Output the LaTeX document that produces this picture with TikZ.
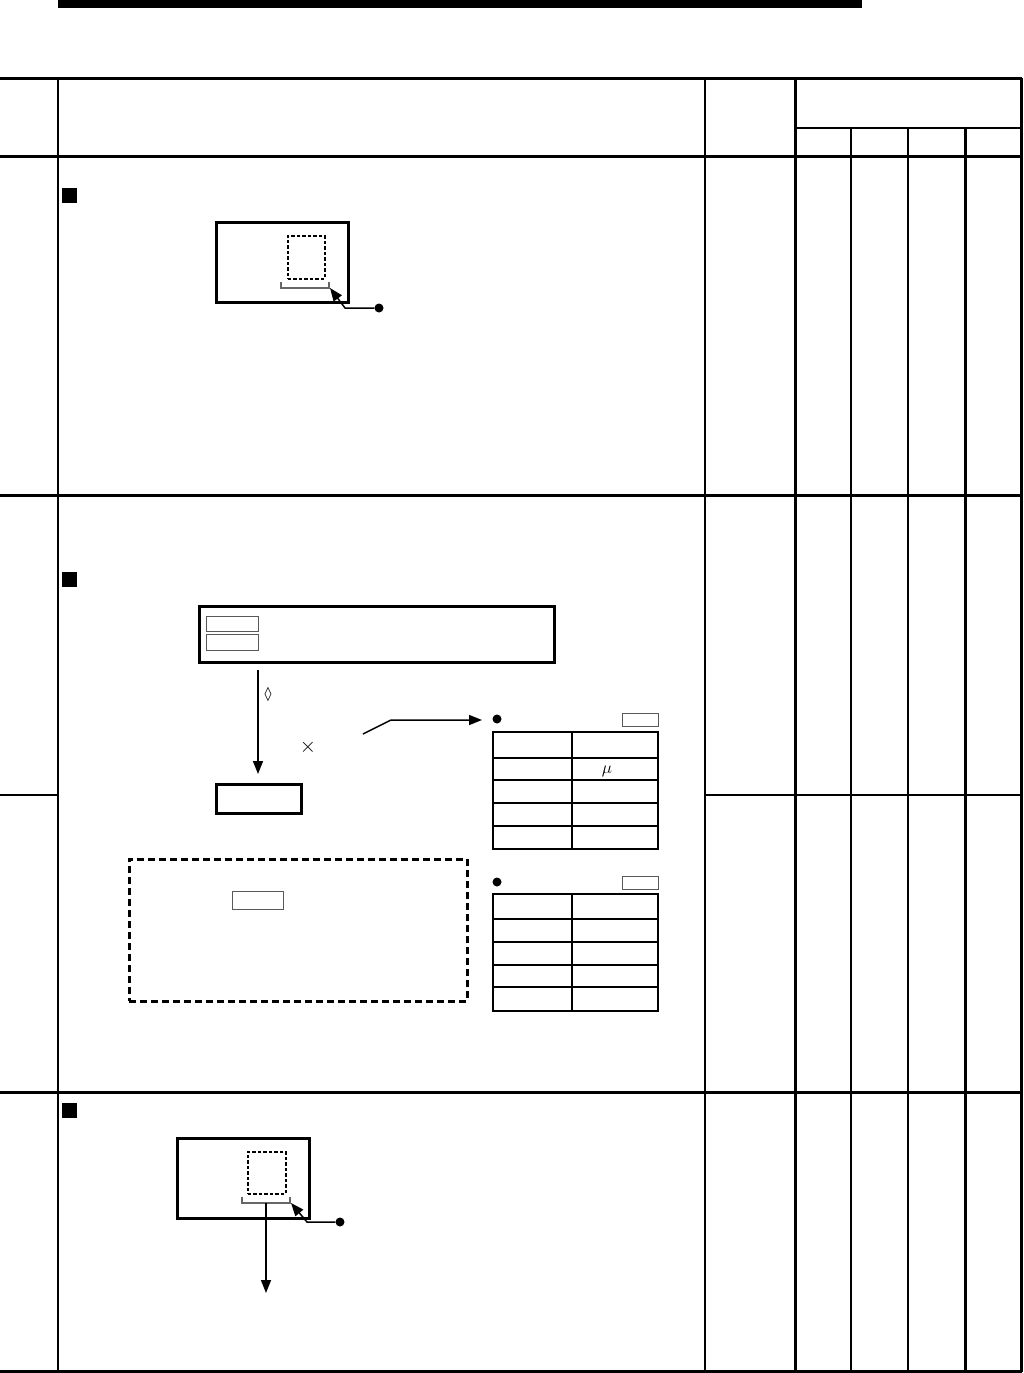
\documentclass[tikz,border=0pt]{standalone}
\usepackage{fontspec}
\newfontfamily\symfont{DejaVu Sans}
\usetikzlibrary{arrows.meta}
\begin{document}
\begin{tikzpicture}[x=1pt,y=-1pt,
  thin/.style={line width=1.2pt},
  thickl/.style={line width=3pt},
  medl/.style={line width=2pt},
  thickbox/.style={draw,line width=2.8pt,inner sep=0pt,anchor=north west},
  graybox/.style={draw=black!65,line width=1.3pt,inner sep=0pt,anchor=north west},
  dashbox/.style={draw,line width=1.6pt,dash pattern=on 3.5pt off 2pt,inner sep=0pt,anchor=north west},
  bigdash/.style={draw,line width=2.6pt,dash pattern=on 7pt off 4pt,inner sep=0pt,anchor=north west},
  blacksq/.style={fill=black,inner sep=0pt,minimum width=15pt,minimum height=15pt,anchor=north west},
  dotn/.style={circle,fill=black,inner sep=0pt,minimum size=9pt},
  arr/.style={line width=1.5pt,-{Triangle[length=13pt,width=10pt]}},
  bracket/.style={draw=black!60,line width=1.5pt},
  tbl/.style={line width=1.7pt}
]
\useasboundingbox (0,0) rectangle (1023,1373);
% top bar
\fill (58,0) rectangle (862,8);
% table frame
\draw[thickl] (0,78) -- (1022,78);
\draw[thickl] (0,156) -- (1022,156);
\draw[thickl] (0,495) -- (1022,495);
\draw[medl] (0,795) -- (58,795);
\draw[medl] (705,795) -- (1022,795);
\draw[thickl] (0,1092) -- (1022,1092);
\draw[thickl] (0,1371) -- (1022,1371);
\draw[medl] (795,128) -- (1022,128);
\draw[thin] (58,78) -- (58,1371);
\draw[thin] (705,78) -- (705,1371);
\draw[thickl] (795,78) -- (795,1371);
\draw[thin] (851,128) -- (851,1371);
\draw[thin] (908,128) -- (908,1371);
\draw[thickl] (965,128) -- (965,1371);
\draw[thickl] (1021,78) -- (1021,1372);

% ---------- row 1
\node[blacksq] (sq1) at (62,188) {};
\node[thickbox,minimum width=132pt,minimum height=80pt] (r1) at (215,221) {};
\node[dashbox,minimum width=37pt,minimum height=43pt] (d1) at (287,235) {};
\draw[bracket] (281,282) |- (329,288) -- (329,282);
\node[dotn] (b1) at (379,308) {};
\coordinate (t1) at (330,288);
\coordinate (k1) at (345,308);
\draw[arr] (b1) -- (k1) -- (t1);

% ---------- row 2
\node[blacksq] (sq2) at (62,572) {};
\node[thickbox,minimum width=355pt,minimum height=56pt] (r2) at (198,605) {};
\node[graybox,minimum width=52pt,minimum height=15pt] (g2a) at (206,616) {};
\node[graybox,minimum width=52pt,minimum height=16pt] (g2b) at (206,634) {};
\coordinate (a2s) at (258,670);
\coordinate (a2e) at (258,774);
\draw[arr] (a2s) -- (a2e);
\node[thickbox,minimum width=85pt,minimum height=29pt] (b2) at (215,783) {};
\node[font=\symfont\fontsize{14}{14}\selectfont,inner sep=0pt] (dia) at (268,694) {◊};
\node[font=\fontsize{20}{20}\selectfont,inner sep=0pt] (times) at (308,747) {$\times$};
\coordinate (l2a) at (363,734);
\coordinate (l2b) at (391,720);
\coordinate (l2c) at (482,720);
\draw[arr] (l2a) -- (l2b) -- (l2c);
% table 1
\node[dotn] (tb1) at (497,719) {};
\node[graybox,minimum width=36pt,minimum height=13pt] (s1) at (622,713) {};
\draw[tbl] (493,732) rectangle (658,849);
\draw[tbl] (572,732) -- (572,849);
\draw[line width=2.6pt] (493,758) -- (658,758);
\foreach \yy in {780,803,826} \draw[tbl] (493,\yy) -- (658,\yy);
\node[font=\fontsize{18}{18}\selectfont,inner sep=0pt] (mu) at (607,771) {$\mu$};
% table 2
\node[dotn] (tb2) at (497,882) {};
\node[graybox,minimum width=36pt,minimum height=13pt] (s2) at (622,876) {};
\draw[tbl] (493,894) rectangle (658,1011);
\draw[tbl] (572,894) -- (572,1011);
\foreach \yy in {919,942,965,987} \draw[tbl] (493,\yy) -- (658,\yy);
% dashed box
\node[bigdash,minimum width=338pt,minimum height=142pt] (db) at (128,858) {};
\node[graybox,minimum width=51pt,minimum height=18pt] (g3) at (232,891) {};

% ---------- row 3
\node[blacksq] (sq3) at (62,1103) {};
\node[thickbox,minimum width=132pt,minimum height=80pt] (r3) at (176,1137) {};
\node[dashbox,minimum width=38pt,minimum height=42pt] (d3) at (247,1151) {};
\draw[bracket] (242,1197) |- (290,1203) -- (290,1197);
\coordinate (a3s) at (266,1203);
\coordinate (a3e) at (266,1293);
\draw[arr] (a3s) -- (a3e);
\node[dotn] (b3) at (340,1222) {};
\coordinate (k3) at (307,1222);
\coordinate (t3) at (291,1203);
\draw[arr] (b3) -- (k3) -- (t3);
\end{tikzpicture}
\end{document}
